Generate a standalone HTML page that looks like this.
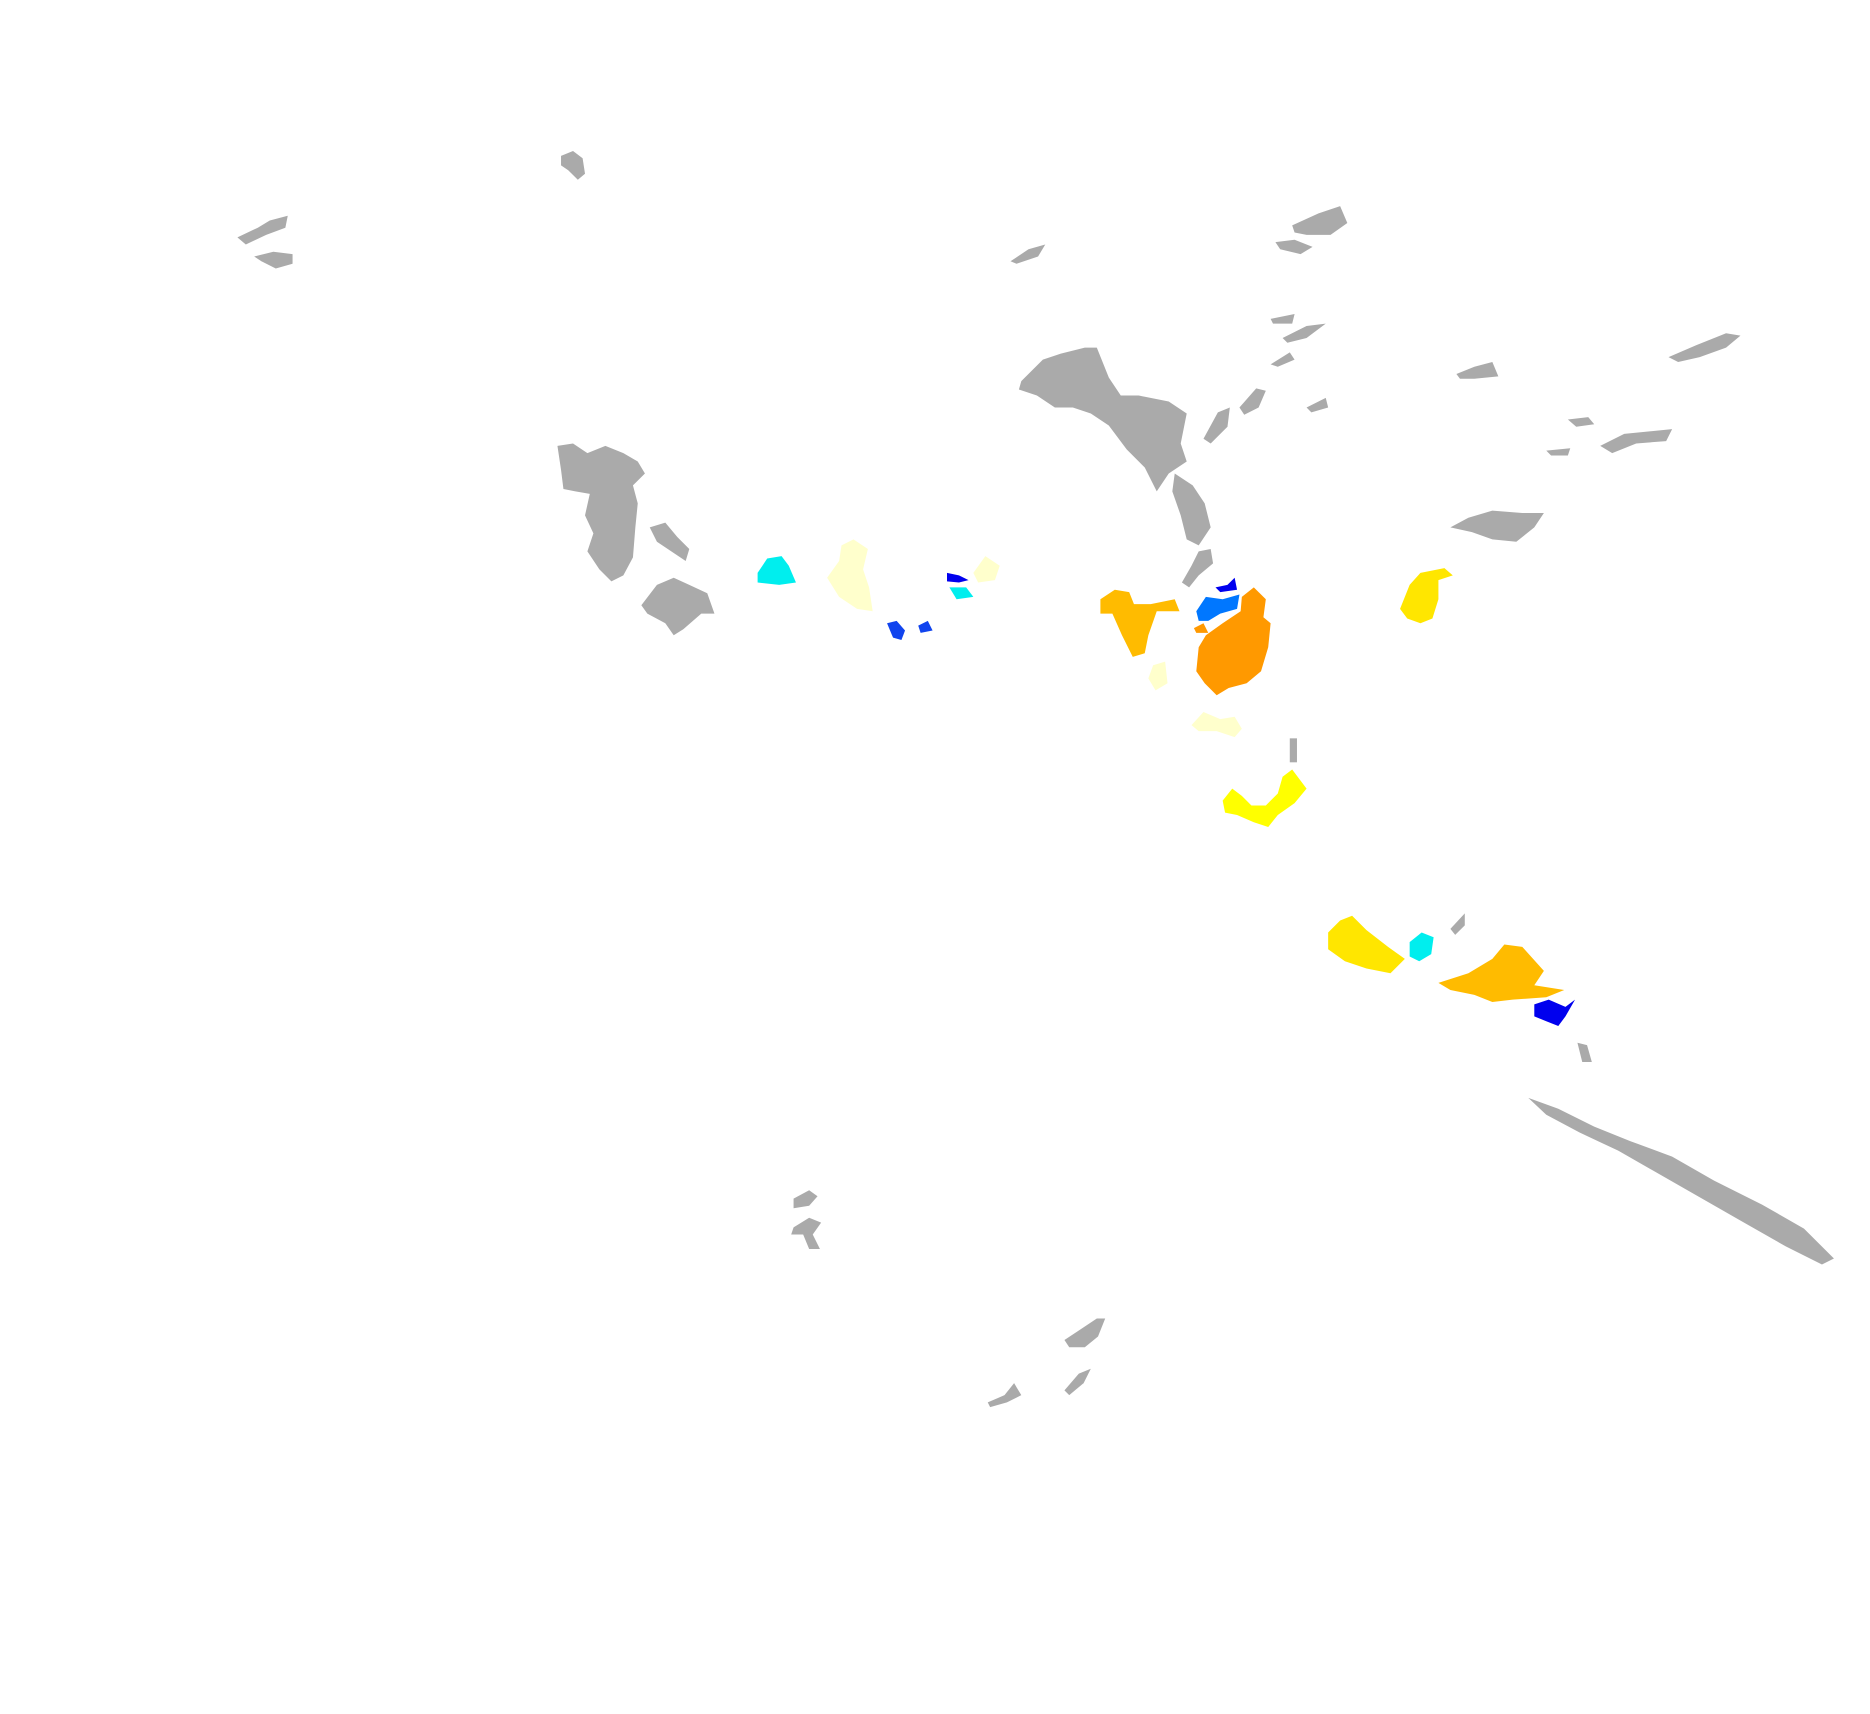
<!DOCTYPE html>
<html><head><meta charset="utf-8"><style>html,body{margin:0;padding:0;background:#fff}svg{display:block}</style></head>
<body>
<svg width="1870" height="1714" viewBox="0 0 1560 1430" xmlns="http://www.w3.org/2000/svg">
<g fill="#aaaaaa">
<path d="M468,130 L478,126 L486,132 L488,145 L482,150 L474,142 L468,138Z"/>
<path d="M198,198 L215,190 L225,184 L240,180 L238,190 L222,196 L205,204Z"/>
<path d="M212,214 L228,210 L244,212 L244,220 L230,224 L218,218Z"/>
<path d="M843,218 L858,208 L872,204 L866,214 L848,220Z"/>
<path d="M1078,188 L1100,178 L1118,172 L1124,186 L1110,196 L1090,196 L1080,194Z"/>
<path d="M1064,202 L1080,200 L1095,206 L1085,212 L1068,208Z"/>
<path d="M1060,266 L1080,262 L1078,270 L1062,270Z"/>
<path d="M1070,282 L1090,272 L1106,270 L1090,282 L1074,286Z"/>
<path d="M1060,304 L1076,294 L1080,300 L1066,306Z"/>
<path d="M1090,340 L1106,332 L1108,340 L1094,344Z"/>
<path d="M1004,366 L1016,344 L1026,340 L1024,356 L1010,370Z"/>
<path d="M1034,340 L1048,324 L1056,326 L1050,340 L1038,346Z"/>
<path d="M852,318 L870,300 L885,295 L905,290 L915,290 L925,315 L935,330 L950,330 L975,335 L990,345 L985,370 L990,385 L975,395 L965,410 L955,390 L940,375 L925,355 L910,345 L895,340 L880,340 L865,330 L850,325Z"/>
<path d="M980,395 L995,405 L1005,420 L1010,440 L1000,455 L990,450 L985,430 L978,410Z"/>
<path d="M1000,460 L1010,458 L1012,470 L1000,480 L992,490 L986,486 L994,472Z"/>
<path d="M1215,312 L1230,306 L1245,302 L1250,314 L1230,316 L1218,316Z"/>
<path d="M1392,298 L1415,288 L1440,278 L1452,280 L1440,290 L1418,298 L1400,302Z"/>
<path d="M1308,350 L1325,348 L1330,354 L1315,356Z"/>
<path d="M1290,376 L1310,374 L1308,380 L1294,380Z"/>
<path d="M1335,372 L1355,362 L1375,360 L1395,358 L1390,368 L1365,370 L1345,378Z"/>
<path d="M1210,440 L1225,432 L1245,426 L1270,428 L1288,428 L1280,440 L1265,452 L1245,450 L1228,444Z"/>
<path d="M465,372 L478,370 L490,378 L505,372 L520,378 L532,385 L538,395 L528,405 L532,420 L530,440 L528,465 L520,480 L510,485 L500,475 L490,460 L495,445 L488,430 L492,412 L480,410 L470,408 L468,392Z"/>
<path d="M542,440 L555,436 L565,448 L575,458 L572,468 L560,460 L548,452Z"/>
<path d="M535,505 L548,488 L562,482 L575,488 L590,495 L596,512 L585,512 L570,525 L562,530 L555,520 L540,512Z"/>
<path d="M1076,616 L1082,616 L1082,636 L1076,636Z"/>
<path d="M1210,775 L1222,762 L1222,772 L1214,780Z"/>
<path d="M1316,870 L1324,872 L1328,886 L1320,886Z"/>
<path d="M1275,916 L1300,925 L1330,940 L1360,952 L1395,965 L1430,985 L1470,1005 L1505,1025 L1530,1050 L1520,1055 L1490,1040 L1455,1020 L1420,1000 L1385,980 L1350,960 L1318,945 L1290,930Z"/>
<path d="M662,1000 L675,993 L682,998 L675,1006 L662,1008Z"/>
<path d="M662,1024 L675,1016 L685,1020 L678,1030 L684,1042 L675,1042 L670,1030 L660,1030Z"/>
<path d="M888,1118 L900,1110 L915,1100 L922,1100 L916,1115 L905,1124 L892,1124Z"/>
<path d="M888,1160 L900,1146 L910,1142 L904,1154 L892,1164Z"/>
<path d="M824,1170 L838,1164 L846,1154 L852,1164 L840,1170 L826,1174Z"/>
</g>
<path fill="#00eeee" d="M632,478 L640,466 L652,464 L658,472 L664,486 L650,488 L632,486Z"/>
<path fill="#00eeee" d="M792,490 L806,490 L812,498 L798,500Z"/>
<path fill="#00eeee" d="M1176,786 L1186,778 L1196,782 L1194,796 L1184,802 L1176,798Z"/>
<path fill="#ffffcc" d="M690,482 L700,468 L702,455 L712,450 L724,458 L720,475 L725,490 L728,510 L715,508 L700,498Z"/>
<path fill="#ffffcc" d="M812,478 L822,464 L834,472 L830,484 L816,486Z"/>
<path fill="#ffffcc" d="M958,566 L962,555 L972,552 L974,570 L964,576Z"/>
<path fill="#ffffcc" d="M994,605 L1004,594 L1018,600 L1030,598 L1036,608 L1030,615 L1015,610 L1000,610Z"/>
<path fill="#0000ee" d="M790,478 L800,480 L808,484 L800,486 L790,485Z"/>
<path fill="#0000ee" d="M1014,490 L1024,488 L1030,482 L1032,492 L1018,494Z"/>
<path fill="#0000ee" d="M1280,838 L1292,834 L1306,840 L1314,834 L1306,848 L1300,856 L1290,852 L1280,848Z"/>
<path fill="#1144ee" d="M740,520 L748,518 L755,526 L752,534 L745,532Z"/>
<path fill="#1144ee" d="M766,522 L774,518 L778,526 L768,528Z"/>
<path fill="#0077ff" d="M998,510 L1006,498 L1020,500 L1034,496 L1032,508 L1018,512 L1008,518 L1000,518Z"/>
<path fill="#ff9900" d="M1000,540 L1006,530 L1020,520 L1035,510 L1036,498 L1046,490 L1056,500 L1054,515 L1060,520 L1058,540 L1052,560 L1040,570 L1025,574 L1015,580 L1005,570 L998,560Z"/>
<path fill="#ff9900" d="M996,524 L1004,520 L1008,528 L998,528Z"/>
<path fill="#ffbb00" d="M918,500 L930,492 L942,494 L946,504 L960,504 L980,500 L984,510 L965,510 L958,530 L955,545 L945,548 L936,530 L928,512 L918,512Z"/>
<path fill="#ffbb00" d="M1200,820 L1225,812 L1245,800 L1255,788 L1270,790 L1288,810 L1280,822 L1305,826 L1290,832 L1262,834 L1245,836 L1230,830 L1210,826Z"/>
<path fill="#ffe600" d="M1168,508 L1176,488 L1185,478 L1205,474 L1212,480 L1200,484 L1200,500 L1195,516 L1185,520 L1174,516Z"/>
<path fill="#ffe600" d="M1108,778 L1118,768 L1128,764 L1140,776 L1158,790 L1172,800 L1160,812 L1140,808 L1122,802 L1108,792Z"/>
<path fill="#ffff00" d="M1020,668 L1028,658 L1036,664 L1044,672 L1056,672 L1066,662 L1070,648 L1078,642 L1090,658 L1080,670 L1066,680 L1058,690 L1046,686 L1032,680 L1022,678Z"/>
</svg>
</body></html>
